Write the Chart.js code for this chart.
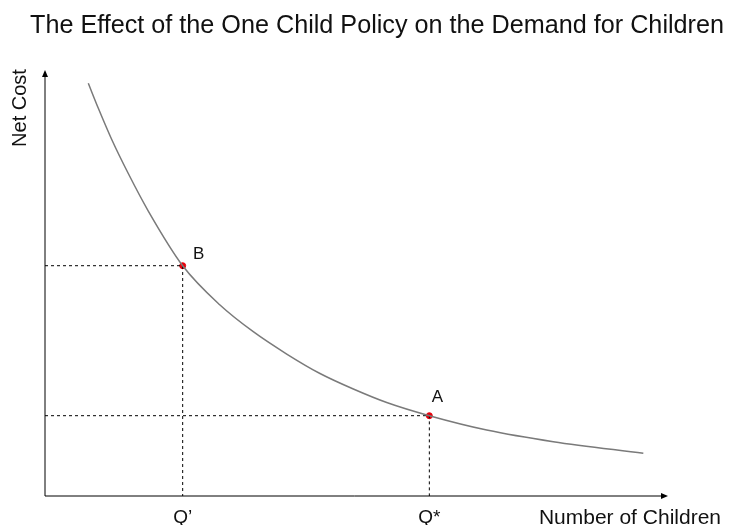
<!DOCTYPE html>
<html>
<head>
<meta charset="utf-8">
<script src="https://cdn.jsdelivr.net/npm/chart.js@4"></script>
<style>
  body { margin: 0; background: #fff; }
</style>
</head>
<body>
<canvas id="chart" width="735" height="525"></canvas>
<script>
// demand curve (units 0-100 on both axes)
const curveX = [6.95, 8.56, 10.71, 13.37, 16.58, 22.1, 28.09, 33.43, 38.8, 44.14, 49.49, 54.85, 61.69, 70.9, 81.59, 96.04];
const curveY = [96.88, 91.01, 83.69, 75.7, 66.9, 54.06, 44.84, 38.57, 33.33, 28.76, 25.12, 21.95, 18.85, 15.49, 12.75, 10.02];

// marked points
const pointNames = ['B', 'A'];
const pointX = [22.1, 61.69];
const pointY = [54.06, 18.85];

// labels under the x axis
const tickLabels = ['Q\u2019', 'Q*'];

const titleText = 'The Effect of the One Child Policy on the Demand for Children';
const xTitle = 'Number of Children';
const yTitle = 'Net Cost';

const FONT = '"Liberation Sans", Arial, sans-serif';

const guideSets = pointX.map((x, i) => ({
  data: [{x: 0, y: pointY[i]}, {x: x, y: pointY[i]}, {x: x, y: 0}],
  borderColor: '#000',
  borderWidth: 1,
  borderDash: [3, 3],
  pointRadius: 0,
  showLine: true,
  fill: false,
  clip: false
}));

const axesPlugin = {
  id: 'axesPlugin',
  afterDraw(chart) {
    const ctx = chart.ctx;
    const xs = chart.scales.x;
    const ys = chart.scales.y;
    const x0 = xs.getPixelForValue(0);
    const x1 = xs.getPixelForValue(100);
    const y0 = ys.getPixelForValue(0);
    const y1 = ys.getPixelForValue(100);
    ctx.save();
    ctx.strokeStyle = '#000';
    ctx.fillStyle = '#000';
    ctx.lineWidth = 1;
    ctx.beginPath();
    ctx.moveTo(x0, y0);
    ctx.lineTo(x1 - 4, y0);
    ctx.moveTo(x0, y0);
    ctx.lineTo(x0, y1 + 4);
    ctx.stroke();
    // arrow heads
    ctx.beginPath();
    ctx.moveTo(x1, y0);
    ctx.lineTo(x1 - 7, y0 - 3);
    ctx.lineTo(x1 - 7, y0 + 3);
    ctx.closePath();
    ctx.fill();
    ctx.beginPath();
    ctx.moveTo(x0, y1);
    ctx.lineTo(x0 - 3, y1 + 7);
    ctx.lineTo(x0 + 3, y1 + 7);
    ctx.closePath();
    ctx.fill();

    ctx.fillStyle = '#111';
    ctx.textAlign = 'center';
    ctx.textBaseline = 'middle';

    // title
    ctx.font = '25.2px ' + FONT;
    ctx.fillText(titleText, 377, 26);

    pointX.forEach((x, i) => {
      const px = xs.getPixelForValue(x);
      const py = ys.getPixelForValue(pointY[i]);
      ctx.font = '19px ' + FONT;
      ctx.fillText(tickLabels[i], px, y0 + 22);
      ctx.font = '17px ' + FONT;
      ctx.fillText(pointNames[i], px + (i === 0 ? 16 : 8), py - (i === 0 ? 11 : 18));
    });
    ctx.font = '21px ' + FONT;
    ctx.textAlign = 'right';
    ctx.fillText(xTitle, 721, y0 + 22);

    ctx.font = '20px ' + FONT;
    ctx.translate(20, 108);
    ctx.rotate(-Math.PI / 2);
    ctx.textAlign = 'center';
    ctx.fillText(yTitle, 0, 0);
    ctx.restore();
  }
};

const ctx = document.getElementById('chart').getContext('2d');
const chart = new Chart(ctx, {
  type: 'scatter',
  data: {
    datasets: [
      {
        data: curveX.map((x, i) => ({x: x, y: curveY[i]})),
        borderColor: '#7a7a7a',
        borderWidth: 1.5,
        pointRadius: 0,
        showLine: true,
        cubicInterpolationMode: 'monotone',
        fill: false
      },
      ...guideSets,
      {
        data: pointX.map((x, i) => ({x: x, y: pointY[i]})),
        backgroundColor: '#e8000b',
        borderColor: '#e8000b',
        pointRadius: 3,
        clip: false
      }
    ]
  },
  options: {
    responsive: false,
    animation: false,
    layout: {
      padding: {left: 45, right: 67, top: 70, bottom: 29}
    },
    plugins: {
      legend: {display: false},
      tooltip: {enabled: false},
      title: {display: false}
    },
    scales: {
      x: {type: 'linear', min: 0, max: 100, display: false},
      y: {min: 0, max: 100, display: false}
    }
  },
  plugins: [axesPlugin]
});
</script>
</body>
</html>
